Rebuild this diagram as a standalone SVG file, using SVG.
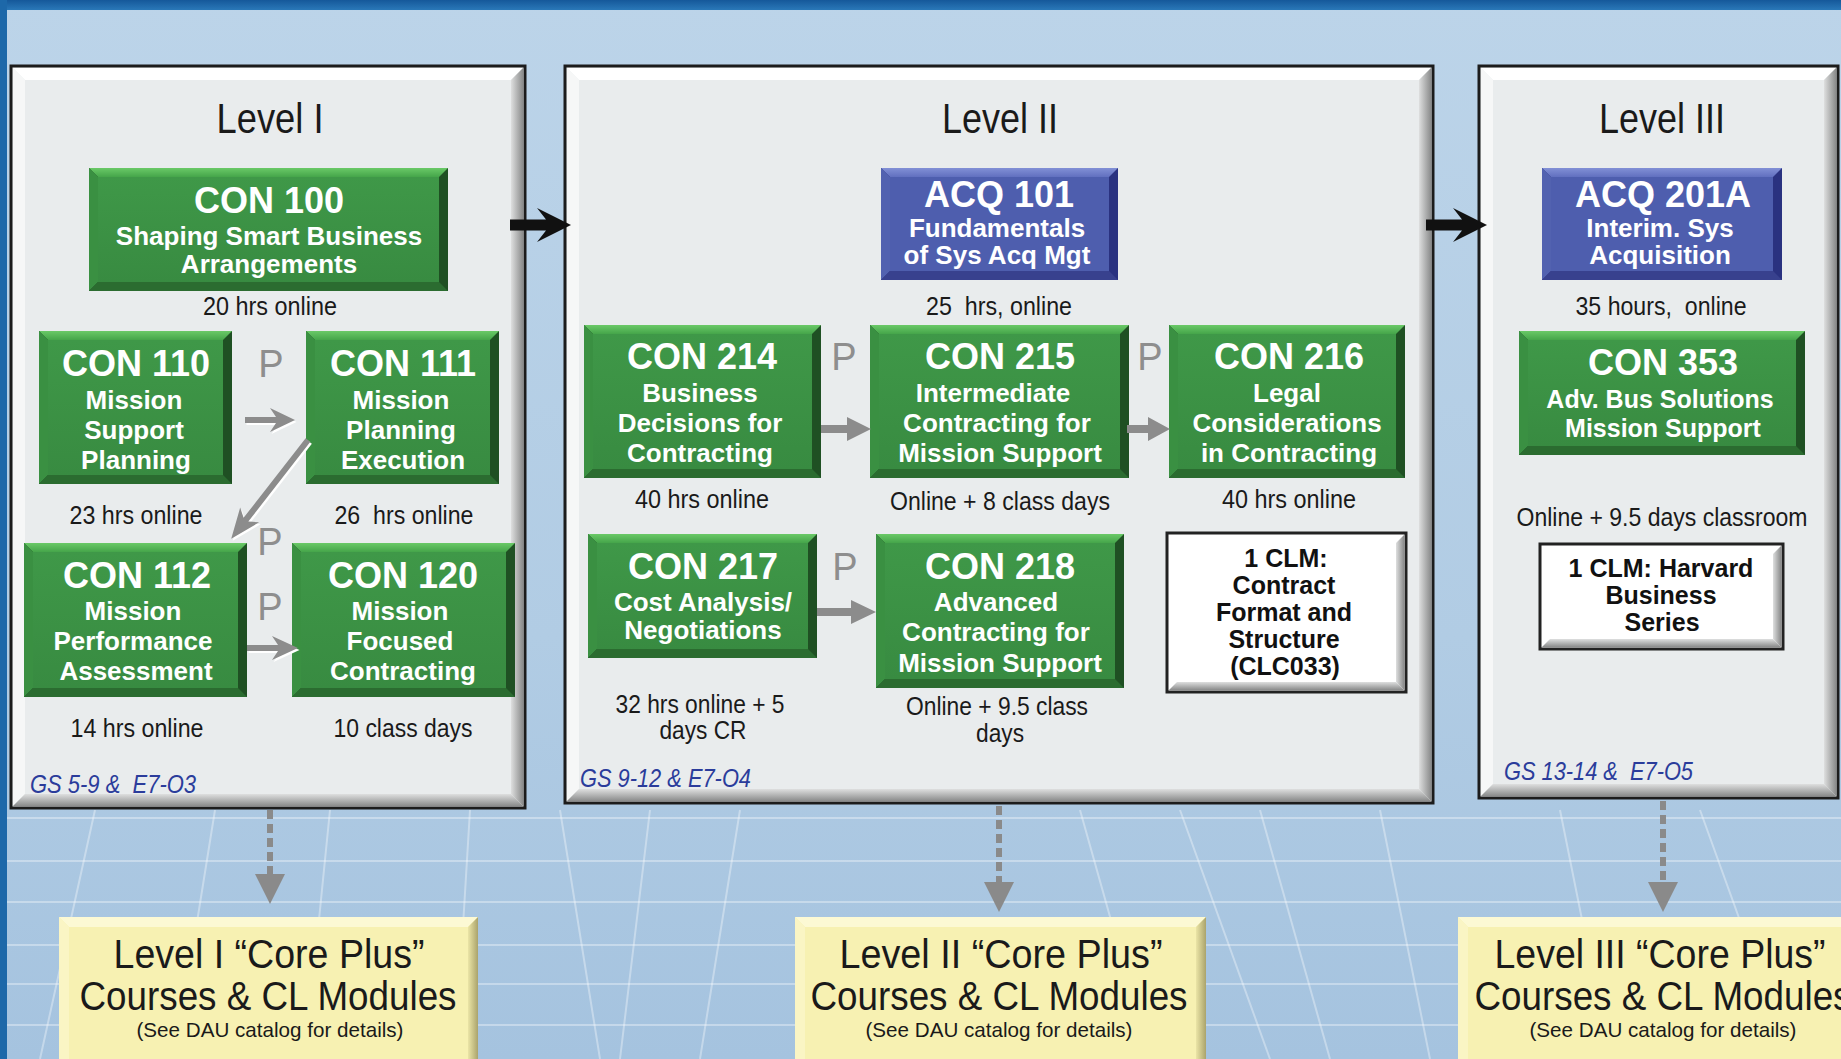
<svg xmlns="http://www.w3.org/2000/svg" width="1841" height="1059" viewBox="0 0 1841 1059">
<defs>
<linearGradient id="bgG" x1="0" y1="0" x2="0" y2="1"><stop offset="0" stop-color="#bcd4e9"/><stop offset="0.6" stop-color="#b1cce4"/><stop offset="1" stop-color="#a5c3df"/></linearGradient>
<linearGradient id="topBand" x1="0" y1="0" x2="0" y2="1"><stop offset="0" stop-color="#15589a"/><stop offset="1" stop-color="#2a78b8"/></linearGradient>
<linearGradient id="pshB" x1="0" y1="0" x2="0" y2="1"><stop offset="0" stop-color="#dedfdf"/><stop offset="1" stop-color="#8a8b8b"/></linearGradient>
<linearGradient id="pshR" x1="0" y1="0" x2="1" y2="0"><stop offset="0" stop-color="#dedfdf"/><stop offset="1" stop-color="#8a8b8b"/></linearGradient>
<linearGradient id="gTop" x1="0" y1="0" x2="0" y2="1"><stop offset="0" stop-color="#6ac967"/><stop offset="1" stop-color="#45a54a"/></linearGradient>
<linearGradient id="gFace" x1="0" y1="0" x2="0" y2="1"><stop offset="0" stop-color="#3f9848"/><stop offset="1" stop-color="#388b41"/></linearGradient>
<linearGradient id="bTop" x1="0" y1="0" x2="0" y2="1"><stop offset="0" stop-color="#8290d6"/><stop offset="1" stop-color="#6170bf"/></linearGradient>
<linearGradient id="yR" x1="0" y1="0" x2="1" y2="0"><stop offset="0" stop-color="#ebe5a6"/><stop offset="1" stop-color="#aaa36c"/></linearGradient>
<style>
.frame{fill:#e9eced;stroke:#1c1c1c;stroke-width:3}
.pt{fill:#ffffff}.pl{fill:#f6f7f7}.pb{fill:url(#pshB)}.pr{fill:url(#pshR)}
.gb{fill:#1f5023}.gt{fill:url(#gTop)}.gl{fill:#3a9042}.gbo{fill:#2b6c30}.gf{fill:url(#gFace)}
.bb{fill:#2a3280}.bt{fill:url(#bTop)}.bl{fill:#5262b0}.bbo{fill:#38418e}.bf{fill:#4e5eae}
.wb{fill:#ffffff;stroke:#222;stroke-width:3}
.yf{fill:#f7f1b2}.yt{fill:#fcf9d4}.yl{fill:#faf5c4}.yr{fill:url(#yR)}
text{font-family:"Liberation Sans",Arial,sans-serif}
.nar{font-family:"Liberation Sans Narrow","Liberation Sans",Arial,sans-serif;text-anchor:middle}
.lvl{font-size:43px;fill:#1a1a1a}
.hrs{font-size:25px;fill:#1a1a1a}
.gs{font-size:25px;font-style:italic;fill:#2b3c9b;text-anchor:start}
.core{font-size:40px;fill:#1a1a1a}
.see{font-size:21px;fill:#1a1a1a}
.code{font-weight:bold;font-size:36px;fill:#ffffff;text-anchor:middle}
.sub{font-weight:bold;font-size:26px;fill:#ffffff;text-anchor:middle}
.clm{font-weight:bold;font-size:25px;fill:#111111;text-anchor:middle}
.p{font-size:38px;fill:#8e8e8e;text-anchor:middle}
.ga{fill:#8c8c8c}.gsh{fill:#ffffff}
.ba{fill:#111111}
.dash{stroke:#8a8a8a;stroke-width:6;stroke-dasharray:9 5;fill:none}
.dh{fill:#8a8a8a}
.bgl{stroke:#ffffff;stroke-opacity:0.35;stroke-width:2;fill:none}
</style>
</defs>

<g id="background">
<rect x="0" y="0" width="1841" height="1059" fill="url(#bgG)"/>
<path class="bgl" d="M0,818 H1841 M0,861 H1841 M0,902 H1841 M0,945 H1841 M0,984 H1841 M0,1025 H1841"/>
<path class="bgl" d="M95,810 L40,1059 M215,810 L175,1059 M330,810 L305,1059 M470,810 L455,1059 M560,810 L600,1059 M650,810 L620,1059 M740,810 L700,1059 M1080,810 L1150,1059 M1180,810 L1270,1059 M1260,810 L1330,1059 M1380,810 L1430,1059 M1560,810 L1610,1059 M1700,810 L1790,1059"/>
<rect x="0" y="0" width="1841" height="10" fill="url(#topBand)"/>
<rect x="0" y="0" width="7" height="1059" fill="#1d68a9"/>
</g>

<g id="panel-level1">
<rect class="frame" x="11" y="66" width="514" height="742"/>
<polygon class="pt" points="13,68 523,68 511,80 25,80"/>
<polygon class="pl" points="13,68 25,80 25,794 13,806"/>
<polygon class="pb" points="13,806 25,794 511,794 523,806"/>
<polygon class="pr" points="523,68 523,806 511,794 511,80"/>
<text class="nar lvl" x="270" y="133" textLength="107" lengthAdjust="spacingAndGlyphs">Level I</text>
<text class="nar gs" x="30" y="793" textLength="166" lengthAdjust="spacingAndGlyphs" xml:space="preserve">GS 5-9 &amp;  E7-O3</text>
</g>

<g id="panel-level2">
<rect class="frame" x="565" y="66" width="868" height="737"/>
<polygon class="pt" points="567,68 1431,68 1419,80 579,80"/>
<polygon class="pl" points="567,68 579,80 579,789 567,801"/>
<polygon class="pb" points="567,801 579,789 1419,789 1431,801"/>
<polygon class="pr" points="1431,68 1431,801 1419,789 1419,80"/>
<text class="nar lvl" x="1000" y="133" textLength="116" lengthAdjust="spacingAndGlyphs">Level II</text>
<text class="nar gs" x="580" y="787" textLength="171" lengthAdjust="spacingAndGlyphs">GS 9-12 &amp; E7-O4</text>
</g>

<g id="panel-level3">
<rect class="frame" x="1479" y="66" width="359" height="732"/>
<polygon class="pt" points="1481,68 1836,68 1824,80 1493,80"/>
<polygon class="pl" points="1481,68 1493,80 1493,784 1481,796"/>
<polygon class="pb" points="1481,796 1493,784 1824,784 1836,796"/>
<polygon class="pr" points="1836,68 1836,796 1824,784 1824,80"/>
<text class="nar lvl" x="1662" y="133" textLength="126" lengthAdjust="spacingAndGlyphs">Level III</text>
<text class="nar gs" x="1504" y="780" textLength="189" lengthAdjust="spacingAndGlyphs" xml:space="preserve">GS 13-14 &amp;  E7-O5</text>
</g>

<g id="con100">
<rect class="gb" x="89" y="168" width="359" height="123"/>
<polygon class="gt" points="89,168 448,168 439,177 98,177"/>
<polygon class="gl" points="89,168 98,177 98,282 89,291"/>
<polygon class="gbo" points="89,291 98,282 439,282 448,291"/>
<rect class="gf" x="98" y="177" width="341" height="105"/>
<text class="code" x="269" y="213">CON 100</text>
<text class="sub" x="269" y="245">Shaping Smart Business</text>
<text class="sub" x="269" y="273">Arrangements</text>
</g>
<text class="nar hrs" x="270" y="315" textLength="134" lengthAdjust="spacingAndGlyphs">20 hrs online</text>

<g id="con110">
<rect class="gb" x="39" y="331" width="193" height="153"/>
<polygon class="gt" points="39,331 232,331 223,340 48,340"/>
<polygon class="gl" points="39,331 48,340 48,475 39,484"/>
<polygon class="gbo" points="39,484 48,475 223,475 232,484"/>
<rect class="gf" x="48" y="340" width="175" height="135"/>
<text class="code" x="136" y="376">CON 110</text>
<text class="sub" x="134" y="409">Mission</text>
<text class="sub" x="134" y="439">Support</text>
<text class="sub" x="136" y="469">Planning</text>
</g>
<text class="nar hrs" x="136" y="524" textLength="133" lengthAdjust="spacingAndGlyphs">23 hrs online</text>

<g id="con111">
<rect class="gb" x="306" y="331" width="193" height="153"/>
<polygon class="gt" points="306,331 499,331 490,340 315,340"/>
<polygon class="gl" points="306,331 315,340 315,475 306,484"/>
<polygon class="gbo" points="306,484 315,475 490,475 499,484"/>
<rect class="gf" x="315" y="340" width="175" height="135"/>
<text class="code" x="403" y="376">CON 111</text>
<text class="sub" x="401" y="409">Mission</text>
<text class="sub" x="401" y="439">Planning</text>
<text class="sub" x="403" y="469">Execution</text>
</g>
<text class="nar hrs" x="404" y="524" textLength="139" lengthAdjust="spacingAndGlyphs" xml:space="preserve">26  hrs online</text>

<g id="con112">
<rect class="gb" x="24" y="543" width="223" height="154"/>
<polygon class="gt" points="24,543 247,543 238,552 33,552"/>
<polygon class="gl" points="24,543 33,552 33,688 24,697"/>
<polygon class="gbo" points="24,697 33,688 238,688 247,697"/>
<rect class="gf" x="33" y="552" width="205" height="136"/>
<text class="code" x="137" y="588">CON 112</text>
<text class="sub" x="133" y="620">Mission</text>
<text class="sub" x="133" y="650">Performance</text>
<text class="sub" x="136" y="680">Assessment</text>
</g>
<text class="nar hrs" x="137" y="737" textLength="133" lengthAdjust="spacingAndGlyphs">14 hrs online</text>

<g id="con120">
<rect class="gb" x="292" y="543" width="223" height="154"/>
<polygon class="gt" points="292,543 515,543 506,552 301,552"/>
<polygon class="gl" points="292,543 301,552 301,688 292,697"/>
<polygon class="gbo" points="292,697 301,688 506,688 515,697"/>
<rect class="gf" x="301" y="552" width="205" height="136"/>
<text class="code" x="403" y="588">CON 120</text>
<text class="sub" x="400" y="620">Mission</text>
<text class="sub" x="400" y="650">Focused</text>
<text class="sub" x="403" y="680">Contracting</text>
</g>
<text class="nar hrs" x="403" y="737" textLength="139" lengthAdjust="spacingAndGlyphs">10 class days</text>

<g id="acq101">
<rect class="bb" x="881" y="168" width="237" height="112"/>
<polygon class="bt" points="881,168 1118,168 1109,177 890,177"/>
<polygon class="bl" points="881,168 890,177 890,271 881,280"/>
<polygon class="bbo" points="881,280 890,271 1109,271 1118,280"/>
<rect class="bf" x="890" y="177" width="219" height="94"/>
<text class="code" x="999" y="207">ACQ 101</text>
<text class="sub" x="997" y="237">Fundamentals</text>
<text class="sub" x="997" y="264">of Sys Acq Mgt</text>
</g>
<text class="nar hrs" x="999" y="315" textLength="146" lengthAdjust="spacingAndGlyphs" xml:space="preserve">25  hrs, online</text>

<g id="con214">
<rect class="gb" x="584" y="325" width="237" height="153"/>
<polygon class="gt" points="584,325 821,325 812,334 593,334"/>
<polygon class="gl" points="584,325 593,334 593,469 584,478"/>
<polygon class="gbo" points="584,478 593,469 812,469 821,478"/>
<rect class="gf" x="593" y="334" width="219" height="135"/>
<text class="code" x="702" y="369">CON 214</text>
<text class="sub" x="700" y="402">Business</text>
<text class="sub" x="700" y="432">Decisions for</text>
<text class="sub" x="700" y="462">Contracting</text>
</g>
<text class="nar hrs" x="702" y="508" textLength="134" lengthAdjust="spacingAndGlyphs">40 hrs online</text>

<g id="con215">
<rect class="gb" x="870" y="325" width="259" height="153"/>
<polygon class="gt" points="870,325 1129,325 1120,334 879,334"/>
<polygon class="gl" points="870,325 879,334 879,469 870,478"/>
<polygon class="gbo" points="870,478 879,469 1120,469 1129,478"/>
<rect class="gf" x="879" y="334" width="241" height="135"/>
<text class="code" x="1000" y="369">CON 215</text>
<text class="sub" x="993" y="402">Intermediate</text>
<text class="sub" x="997" y="432">Contracting for</text>
<text class="sub" x="1000" y="462">Mission Support</text>
</g>
<text class="nar hrs" x="1000" y="510" textLength="220" lengthAdjust="spacingAndGlyphs">Online + 8 class days</text>

<g id="con216">
<rect class="gb" x="1169" y="325" width="236" height="153"/>
<polygon class="gt" points="1169,325 1405,325 1396,334 1178,334"/>
<polygon class="gl" points="1169,325 1178,334 1178,469 1169,478"/>
<polygon class="gbo" points="1169,478 1178,469 1396,469 1405,478"/>
<rect class="gf" x="1178" y="334" width="218" height="135"/>
<text class="code" x="1289" y="369">CON 216</text>
<text class="sub" x="1287" y="402">Legal</text>
<text class="sub" x="1287" y="432">Considerations</text>
<text class="sub" x="1289" y="462">in Contracting</text>
</g>
<text class="nar hrs" x="1289" y="508" textLength="134" lengthAdjust="spacingAndGlyphs">40 hrs online</text>

<g id="con217">
<rect class="gb" x="588" y="534" width="229" height="124"/>
<polygon class="gt" points="588,534 817,534 808,543 597,543"/>
<polygon class="gl" points="588,534 597,543 597,649 588,658"/>
<polygon class="gbo" points="588,658 597,649 808,649 817,658"/>
<rect class="gf" x="597" y="543" width="211" height="106"/>
<text class="code" x="703" y="579">CON 217</text>
<text class="sub" x="703" y="611">Cost Analysis/</text>
<text class="sub" x="703" y="639">Negotiations</text>
</g>
<text class="nar hrs" x="700" y="713" textLength="169" lengthAdjust="spacingAndGlyphs">32 hrs online + 5</text>
<text class="nar hrs" x="703" y="739" textLength="87" lengthAdjust="spacingAndGlyphs">days CR</text>

<g id="con218">
<rect class="gb" x="876" y="534" width="248" height="154"/>
<polygon class="gt" points="876,534 1124,534 1115,543 885,543"/>
<polygon class="gl" points="876,534 885,543 885,679 876,688"/>
<polygon class="gbo" points="876,688 885,679 1115,679 1124,688"/>
<rect class="gf" x="885" y="543" width="230" height="136"/>
<text class="code" x="1000" y="579">CON 218</text>
<text class="sub" x="996" y="611">Advanced</text>
<text class="sub" x="996" y="641">Contracting for</text>
<text class="sub" x="1000" y="672">Mission Support</text>
</g>
<text class="nar hrs" x="997" y="715" textLength="182" lengthAdjust="spacingAndGlyphs">Online + 9.5 class</text>
<text class="nar hrs" x="1000" y="742" textLength="48" lengthAdjust="spacingAndGlyphs">days</text>

<g id="clm-clc033">
<rect class="wb" x="1167" y="533" width="239" height="159"/>
<polygon class="pb" points="1169,690 1177,682 1396,682 1404,690"/>
<polygon class="pr" points="1404,535 1404,690 1396,682 1396,543"/>
<text class="clm" x="1286" y="567">1 CLM:</text>
<text class="clm" x="1284" y="594">Contract</text>
<text class="clm" x="1284" y="621">Format and</text>
<text class="clm" x="1284" y="648">Structure</text>
<text class="clm" x="1285" y="675">(CLC033)</text>
</g>

<g id="acq201a">
<rect class="bb" x="1542" y="168" width="240" height="112"/>
<polygon class="bt" points="1542,168 1782,168 1773,177 1551,177"/>
<polygon class="bl" points="1542,168 1551,177 1551,271 1542,280"/>
<polygon class="bbo" points="1542,280 1551,271 1773,271 1782,280"/>
<rect class="bf" x="1551" y="177" width="222" height="94"/>
<text class="code" x="1663" y="207">ACQ 201A</text>
<text class="sub" x="1660" y="237">Interim. Sys</text>
<text class="sub" x="1660" y="264">Acquisition</text>
</g>
<text class="nar hrs" x="1661" y="315" textLength="171" lengthAdjust="spacingAndGlyphs" xml:space="preserve">35 hours,  online</text>

<g id="con353">
<rect class="gb" x="1519" y="331" width="286" height="124"/>
<polygon class="gt" points="1519,331 1805,331 1796,340 1528,340"/>
<polygon class="gl" points="1519,331 1528,340 1528,446 1519,455"/>
<polygon class="gbo" points="1519,455 1528,446 1796,446 1805,455"/>
<rect class="gf" x="1528" y="340" width="268" height="106"/>
<text class="code" x="1663" y="375">CON 353</text>
<text class="sub" x="1660" y="408" style="font-size:25px">Adv. Bus Solutions</text>
<text class="sub" x="1663" y="437" style="font-size:25px">Mission Support</text>
</g>
<text class="nar hrs" x="1662" y="526" textLength="291" lengthAdjust="spacingAndGlyphs">Online + 9.5 days classroom</text>

<g id="clm-harvard">
<rect class="wb" x="1540" y="544" width="243" height="105"/>
<polygon class="pb" points="1542,647 1550,639 1773,639 1781,647"/>
<polygon class="pr" points="1781,546 1781,647 1773,639 1773,554"/>
<text class="clm" x="1661" y="577">1 CLM: Harvard</text>
<text class="clm" x="1661" y="604">Business</text>
<text class="clm" x="1662" y="631">Series</text>
</g>

<g id="coreplus1">
<rect class="yf" x="59" y="917" width="419" height="150"/>
<polygon class="yt" points="59,917 478,917 468,927 69,927"/>
<polygon class="yl" points="59,917 69,927 69,1067 59,1067"/>
<polygon class="yr" points="478,917 478,1067 468,1067 468,927"/>
<text class="nar core" x="269" y="968" textLength="311" lengthAdjust="spacingAndGlyphs">Level I “Core Plus”</text>
<text class="nar core" x="268" y="1010" textLength="377" lengthAdjust="spacingAndGlyphs">Courses &amp; CL Modules</text>
<text class="nar see" x="270" y="1037" textLength="267" lengthAdjust="spacingAndGlyphs">(See DAU catalog for details)</text>
</g>

<g id="coreplus2">
<rect class="yf" x="795" y="917" width="411" height="150"/>
<polygon class="yt" points="795,917 1206,917 1196,927 805,927"/>
<polygon class="yl" points="795,917 805,927 805,1067 795,1067"/>
<polygon class="yr" points="1206,917 1206,1067 1196,1067 1196,927"/>
<text class="nar core" x="1001" y="968" textLength="323" lengthAdjust="spacingAndGlyphs">Level II “Core Plus”</text>
<text class="nar core" x="999" y="1010" textLength="377" lengthAdjust="spacingAndGlyphs">Courses &amp; CL Modules</text>
<text class="nar see" x="999" y="1037" textLength="267" lengthAdjust="spacingAndGlyphs">(See DAU catalog for details)</text>
</g>

<g id="coreplus3">
<rect class="yf" x="1458" y="917" width="400" height="150"/>
<polygon class="yt" points="1458,917 1860,917 1850,927 1468,927"/>
<polygon class="yl" points="1458,917 1468,927 1468,1067 1458,1067"/>
<text class="nar core" x="1660" y="968" textLength="331" lengthAdjust="spacingAndGlyphs">Level III “Core Plus”</text>
<text class="nar core" x="1663" y="1010" textLength="377" lengthAdjust="spacingAndGlyphs">Courses &amp; CL Modules</text>
<text class="nar see" x="1663" y="1037" textLength="267" lengthAdjust="spacingAndGlyphs">(See DAU catalog for details)</text>
</g>

<g id="connectors">
<path class="ba" d="M510,219.5 H546 L537,208 L571,225 L537,242 L546,230.5 H510 Z"/>
<path class="ba" d="M1426,219.5 H1462 L1453,208 L1487,225 L1453,242 L1462,230.5 H1426 Z"/>
<g transform="translate(1.5,2)"><path class="gsh" d="M245,417 H276 L270,408 L295,420 L270,432 L276,423 H245 Z"/></g>
<path class="ga" d="M245,417 H276 L270,408 L295,420 L270,432 L276,423 H245 Z"/>
<g transform="translate(309.5,442) rotate(127.9)"><path class="gsh" d="M0,-3 H101 L95,-12 L125,0 L95,12 L101,3 H0 Z"/></g>
<g transform="translate(308,440) rotate(127.9)"><path class="ga" d="M0,-3 H101 L95,-12 L125,0 L95,12 L101,3 H0 Z"/></g>
<g transform="translate(1.5,2)"><path class="gsh" d="M247,645 H278 L272,636 L298,648 L272,660 L278,651 H247 Z"/></g>
<path class="ga" d="M247,645 H278 L272,636 L298,648 L272,660 L278,651 H247 Z"/>
<path class="ga" d="M821,425 H847 V417 L871,429 L847,441 V433 H821 Z"/>
<path class="ga" d="M1127,425 H1148 V417 L1170,429 L1148,441 V433 H1127 Z"/>
<path class="ga" d="M817,608 H851 V600 L876,612 L851,624 V616 H817 Z"/>
<line class="dash" x1="270" y1="810" x2="270" y2="874"/>
<polygon class="dh" points="255,874 285,874 270,904"/>
<line class="dash" x1="999" y1="806" x2="999" y2="882"/>
<polygon class="dh" points="984,882 1014,882 999,912"/>
<line class="dash" x1="1663" y1="801" x2="1663" y2="882"/>
<polygon class="dh" points="1648,882 1678,882 1663,912"/>
</g>

<g id="prereq-labels">
<text class="p" x="271" y="377">P</text>
<text class="p" x="270" y="555">P</text>
<text class="p" x="270" y="620">P</text>
<text class="p" x="844" y="370">P</text>
<text class="p" x="1150" y="370">P</text>
<text class="p" x="845" y="580">P</text>
</g>
</svg>
